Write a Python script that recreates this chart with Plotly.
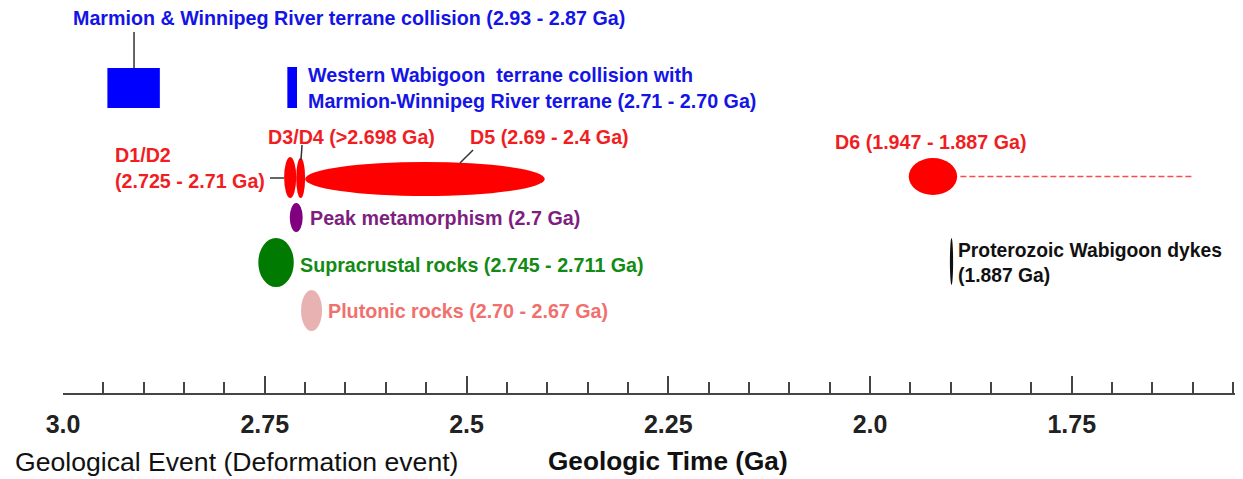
import plotly.graph_objects as go

# ---------------- data (geologic time, Ga) ----------------
event_names = [
    "Marmion & Winnipeg River terrane collision",
    "Western Wabigoon terrane collision",
    "D1/D2", "D3/D4", "D5",
    "Peak metamorphism", "Supracrustal rocks", "Plutonic rocks",
    "D6", "Proterozoic Wabigoon dykes",
]
event_start = [2.945, 2.722, 2.726, 2.711, 2.700, 2.719, 2.758, 2.705, 1.952, 1.901]
event_end = [2.880, 2.710, 2.711, 2.700, 2.403, 2.703, 2.714, 2.679, 1.892, 1.897]
event_kind = ["rect", "rect", "circle", "circle", "circle",
              "circle", "circle", "circle", "circle", "circle"]
d6_extension_end = 1.60

label_texts = [
    "Marmion & Winnipeg River terrane collision (2.93 - 2.87 Ga)",
    "Western Wabigoon  terrane collision with<br>Marmion-Winnipeg River terrane (2.71 - 2.70 Ga)",
    "D1/D2<br>(2.725 - 2.71 Ga)",
    "D3/D4 (>2.698 Ga)",
    "D5 (2.69 - 2.4 Ga)",
    "Peak metamorphism (2.7 Ga)",
    "Supracrustal rocks (2.745 - 2.711 Ga)",
    "Plutonic rocks (2.70 - 2.67 Ga)",
    "D6 (1.947 - 1.887 Ga)",
    "Proterozoic Wabigoon dykes<br>(1.887 Ga)",
]

tick_vals = [3.0, 2.75, 2.5, 2.25, 2.0, 1.75]
tick_text = ["3.0", "2.75", "2.5", "2.25", "2.0", "1.75"]

# ---------------- layout / styling ----------------
# vertical lanes (top, bottom) for each event, on a top-down row scale
lane_top = [68, 67, 157, 158, 162, 203, 238, 290, 158, 238]
lane_bot = [108, 108, 198, 198, 196, 232, 287, 331, 195, 285]
fill_colors = ["#0000FF", "#0000FF", "#FF0000", "#FF0000", "#FF0000",
               "#800080", "#007A00", "#E8B2B2", "#FF0000", "#111111"]
label_colors = ["#1414E6", "#1414E6", "#F01E23", "#F01E23", "#F01E23",
                "#7E1E80", "#138A13", "#F0706E", "#F01E23", "#111111"]
label_sizes = [19.7, 19.7, 19.7, 19.7, 19.7, 19.7, 19.7, 19.7, 19.7, 19.3]
label_x = [2.9876, 2.6964, 2.9356, 2.7460, 2.4957, 2.6939, 2.7063, 2.6716, 2.0434, 1.8910]
label_y = [18, 87.5, 167.5, 137, 137, 218, 265, 311, 142, 263]

# leader lines: (x0, y0, x1, y1)
leaders = [
    (2.912, 68, 2.912, 32),
    (2.7435, 178, 2.7262, 178),
    (2.7051, 160, 2.7038, 145),
    (2.5081, 163, 2.4919, 150),
]

FONT = "Liberation Sans, Arial, sans-serif"

fig = go.Figure()
# invisible trace so the axes are created
fig.add_trace(go.Scatter(x=[event_start[0]], y=[lane_top[0]], mode="markers",
                         marker=dict(opacity=0), hoverinfo="skip", showlegend=False))

shapes = []
for i in range(len(event_names)):
    shapes.append(dict(type=event_kind[i], xref="x", yref="y",
                       x0=event_start[i], x1=event_end[i],
                       y0=lane_top[i], y1=lane_bot[i],
                       fillcolor=fill_colors[i], line=dict(width=0), layer="above"))

# D6 dashed continuation
d6 = event_names.index("D6")
d6_mid = (lane_top[d6] + lane_bot[d6]) / 2
shapes.append(dict(type="line", xref="x", yref="y",
                   x0=event_end[d6] - 0.004, x1=d6_extension_end, y0=d6_mid, y1=d6_mid,
                   line=dict(color="#FF4A4A", width=1.5, dash="6px,3px")))

for (x0, y0, x1, y1) in leaders:
    shapes.append(dict(type="line", xref="x", yref="y", x0=x0, y0=y0, x1=x1, y1=y1,
                       line=dict(color="#333333", width=1.5)))

annotations = []
for i in range(len(event_names)):
    annotations.append(dict(x=label_x[i], y=label_y[i], xref="x", yref="y",
                            text=label_texts[i], showarrow=False,
                            xanchor="left", yanchor="middle", align="left", xshift=-2,
                            font=dict(family=FONT, size=label_sizes[i], color=label_colors[i],
                                      weight="bold")))

annotations.append(dict(x=-0.0407, y=-0.179, xref="paper", yref="paper",
                        text="Geological Event (Deformation event)", showarrow=False,
                        xanchor="left", yanchor="middle", xshift=-2,
                        font=dict(family=FONT, size=26.6, color="#111111")))
annotations.append(dict(x=0.411, y=-0.1766, xref="paper", yref="paper",
                        text="Geologic Time (Ga)", showarrow=False,
                        xanchor="left", yanchor="middle", xshift=-2,
                        font=dict(family=FONT, size=26.2, color="#111111", weight="bold")))

# page has an 8px body margin: plot area spans page x 63..1243, y 8..393
fig.update_layout(
    width=1235, height=471,
    margin=dict(l=55, r=0, t=0, b=86, pad=0),
    paper_bgcolor="white", plot_bgcolor="white",
    shapes=shapes, annotations=annotations,
    showlegend=False,
    xaxis=dict(range=[3.0, 1.5378], showline=True, linecolor="#444444", linewidth=2,
               ticks="inside", ticklen=17, tickwidth=1.5, tickcolor="#444444",
               tickvals=tick_vals, ticktext=tick_text, ticklabelstandoff=8,
               tickfont=dict(family=FONT, size=25, color="#222222", weight="bold"),
               showgrid=False, zeroline=False, fixedrange=True,
               minor=dict(tick0=3.0, dtick=0.05, ticks="inside", ticklen=11,
                          tickwidth=1.5, tickcolor="#444444", showgrid=False)),
    yaxis=dict(range=[393, 8], visible=False, fixedrange=True),
)

fig.write_html("out.html")
